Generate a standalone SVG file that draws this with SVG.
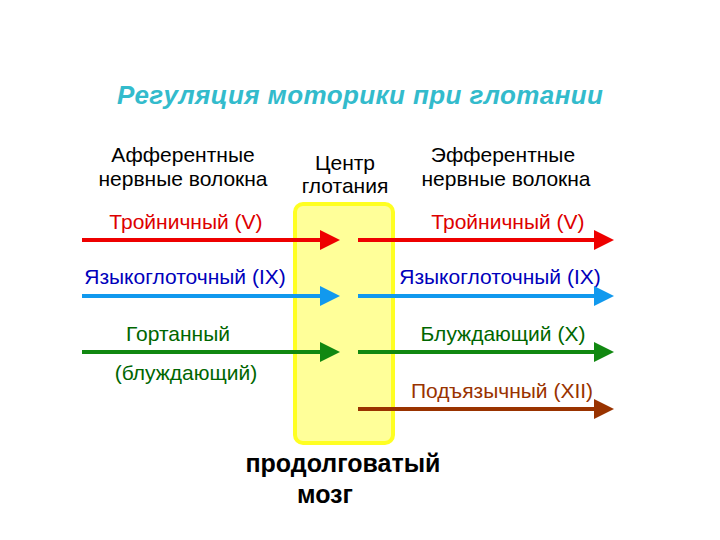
<svg xmlns="http://www.w3.org/2000/svg" width="720" height="540" viewBox="0 0 720 540">
<style>
text{font-family:"Liberation Sans",Arial,sans-serif;font-size:21px;text-anchor:middle}
.h{fill:#000}
.ln{stroke-width:4;fill:none}
</style>
<defs>
<marker id="mr" markerWidth="5" markerHeight="5" refX="4" refY="2.5" orient="auto" markerUnits="strokeWidth"><path d="M0,0L5,2.5L0,5z" fill="#ee0000"/></marker>
<marker id="mb" markerWidth="5" markerHeight="5" refX="4" refY="2.5" orient="auto" markerUnits="strokeWidth"><path d="M0,0L5,2.5L0,5z" fill="#1199ee"/></marker>
<marker id="mg" markerWidth="5" markerHeight="5" refX="4" refY="2.5" orient="auto" markerUnits="strokeWidth"><path d="M0,0L5,2.5L0,5z" fill="#118811"/></marker>
<marker id="mn" markerWidth="5" markerHeight="5" refX="4" refY="2.5" orient="auto" markerUnits="strokeWidth"><path d="M0,0L5,2.5L0,5z" fill="#993300"/></marker>
</defs>
<rect width="720" height="540" fill="#fff"/>
<text x="360" y="104" style="font-size:26px;font-style:italic;font-weight:bold;fill:#33bbcc" textLength="486">Регуляция моторики при глотании</text>
<g id="center"><rect x="295" y="204" width="98" height="239" rx="8" fill="#ffff99" stroke="#ffff22" stroke-width="4"/>
<text class="h" x="345" y="170">Центр</text><text class="h" x="345" y="193">глотания</text></g>
<g id="aff"><text class="h" x="183" y="162">Афферентные</text><text class="h" x="183" y="186">нервные волокна</text></g>
<g id="eff"><text class="h" x="503" y="162">Эфферентные</text><text class="h" x="506" y="186">нервные волокна</text></g>
<g id="medulla"><text class="h" x="343" y="472" style="font-size:25px;font-weight:bold">продолговатый</text><text class="h" x="325" y="503" style="font-size:25px;font-weight:bold">мозг</text></g>
<g id="labels">
<text x="186" y="229" fill="#dd0000">Тройничный  (V)</text>
<text x="508" y="229" fill="#dd0000">Тройничный  (V)</text>
<text x="185" y="284" fill="#0000bb">Языкоглоточный (IX)</text>
<text x="500" y="284" fill="#0000bb">Языкоглоточный (IX)</text>
<text x="178" y="341" fill="#006600">Гортанный</text>
<text x="186" y="380" fill="#006600">(блуждающий)</text>
<text x="503" y="341" fill="#006600">Блуждающий (X)</text>
<text x="502" y="398" fill="#993300">Подъязычный (XII)</text>
</g>
<g id="connectors">
<line class="ln" x1="82" y1="240" x2="336" y2="240" stroke="#ee0000" marker-end="url(#mr)"/>
<line class="ln" x1="358" y1="240" x2="610" y2="240" stroke="#ee0000" marker-end="url(#mr)"/>
<line class="ln" x1="82" y1="296" x2="336" y2="296" stroke="#1199ee" marker-end="url(#mb)"/>
<line class="ln" x1="358" y1="296" x2="610" y2="296" stroke="#1199ee" marker-end="url(#mb)"/>
<line class="ln" x1="82" y1="352" x2="336" y2="352" stroke="#118811" marker-end="url(#mg)"/>
<line class="ln" x1="358" y1="352" x2="610" y2="352" stroke="#118811" marker-end="url(#mg)"/>
<line class="ln" x1="358" y1="409" x2="610" y2="409" stroke="#993300" marker-end="url(#mn)"/>
</g>
</svg>
